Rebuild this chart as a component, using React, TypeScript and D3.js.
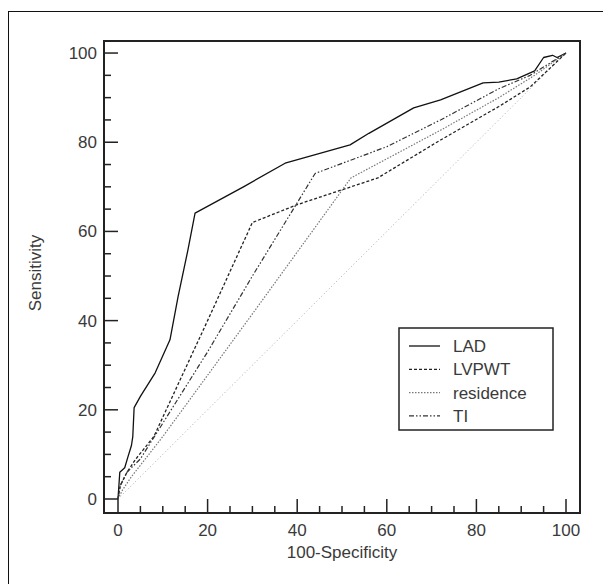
import { useEffect, useRef } from 'react'
import * as d3 from 'd3'

// ROC curves, values (100-Specificity, Sensitivity)
const ladX = [0, 0.4, 1.5, 2.2, 3, 3.3, 3.6, 5, 8.3, 11.6, 13.4, 15.6, 17.2, 28, 37.3, 51.8, 56, 66, 72, 81.5, 85, 89, 93, 95, 97, 98, 100]
const ladY = [0, 6, 7, 9.4, 12, 14, 20.5, 23, 28.3, 35.7, 45.3, 55.8, 64.1, 70, 75.3, 79.4, 82, 87.7, 89.5, 93.3, 93.5, 94.2, 96, 99, 99.5, 99, 100]

const lvpwtX = [0, 0.5, 2, 4, 8, 20, 30, 40, 52, 58, 72, 85, 92, 100]
const lvpwtY = [0, 3, 6, 9, 14, 40, 62, 66, 70, 72, 80.5, 88, 92.4, 100]

const residenceX = [0, 1, 3, 10, 30, 52, 72, 85, 93, 100]
const residenceY = [0, 2, 5, 14, 41.5, 72, 82.7, 90, 95, 100]

const tiX = [0, 0.5, 2, 5, 10, 20, 30, 44, 60, 72, 85, 92, 100]
const tiY = [0, 3, 6, 9, 17, 33, 50, 73, 79, 85, 92, 95, 100]

const refX = [0, 100]
const refY = [0, 100]

const tickLabels = [0, 20, 40, 60, 80, 100]

const App = () => {
  const svgRef = useRef(null)
  const width = 603
  const height = 584
  const plot = { left: 104, right: 580, top: 41, bottom: 513 }

  useEffect(() => {
    const svg = d3.select(svgRef.current)
    svg.selectAll('*').remove()

    const font = 'Liberation Sans, Arial, sans-serif'
    const textColor = '#3a3a3a'
    const fontSize = '17px'

    const xScale = d3.scaleLinear().domain([-3.125, 103.125]).range([plot.left, plot.right])
    const yScale = d3.scaleLinear().domain([-3.14, 102.7]).range([plot.bottom, plot.top])

    // outer border of the figure
    svg.append('rect')
      .attr('x', 8.5)
      .attr('y', 11.5)
      .attr('width', 700)
      .attr('height', 700)
      .attr('fill', 'none')
      .attr('stroke', '#111')
      .attr('stroke-width', 1)

    const series = [
      { label: 'LAD', xs: ladX, ys: ladY, color: '#111', dash: null, w: 1.3 },
      { label: 'LVPWT', xs: lvpwtX, ys: lvpwtY, color: '#222', dash: '3,2', w: 1.3 },
      { label: 'residence', xs: residenceX, ys: residenceY, color: '#777', dash: '1.5,1.5', w: 1.2 },
      { label: 'TI', xs: tiX, ys: tiY, color: '#333', dash: '5,2,1.5,2,1.5,2', w: 1.2 }
    ]

    const line = d3.line()
      .x(d => xScale(d[0]))
      .y(d => yScale(d[1]))

    // reference diagonal
    svg.append('path')
      .datum(refX.map((x, i) => [x, refY[i]]))
      .attr('fill', 'none')
      .attr('stroke', '#aaa')
      .attr('stroke-width', 1)
      .attr('stroke-dasharray', '1,2.5')
      .attr('d', line)

    series.forEach(s => {
      const path = svg.append('path')
        .datum(s.xs.map((x, i) => [x, s.ys[i]]))
        .attr('fill', 'none')
        .attr('stroke', s.color)
        .attr('stroke-width', s.w)
        .attr('stroke-linejoin', 'round')
        .attr('d', line)
      if (s.dash) path.attr('stroke-dasharray', s.dash)
    })

    // frame
    svg.append('rect')
      .attr('x', plot.left)
      .attr('y', plot.top)
      .attr('width', plot.right - plot.left)
      .attr('height', plot.bottom - plot.top)
      .attr('fill', 'none')
      .attr('stroke', '#222')
      .attr('stroke-width', 2)

    // inward ticks, minor every 5, major every 20
    const ticks = d3.range(0, 101, 5)
    ticks.forEach(t => {
      const len = t % 20 === 0 ? 14 : 7
      svg.append('line')
        .attr('x1', xScale(t)).attr('x2', xScale(t))
        .attr('y1', plot.bottom).attr('y2', plot.bottom - len)
        .attr('stroke', '#222').attr('stroke-width', 1.5)
      svg.append('line')
        .attr('x1', plot.left).attr('x2', plot.left + len)
        .attr('y1', yScale(t)).attr('y2', yScale(t))
        .attr('stroke', '#222').attr('stroke-width', 1.5)
    })

    tickLabels.forEach(t => {
      svg.append('text')
        .attr('x', xScale(t))
        .attr('y', plot.bottom + 23)
        .attr('text-anchor', 'middle')
        .style('font-family', font)
        .style('font-size', fontSize)
        .style('fill', textColor)
        .text(t)
      svg.append('text')
        .attr('x', plot.left - 7)
        .attr('y', yScale(t))
        .attr('dy', '0.35em')
        .attr('text-anchor', 'end')
        .style('font-family', font)
        .style('font-size', fontSize)
        .style('fill', textColor)
        .text(t)
    })

    svg.append('text')
      .attr('x', 342)
      .attr('y', 558)
      .attr('text-anchor', 'middle')
      .style('font-family', font)
      .style('font-size', fontSize)
      .style('fill', textColor)
      .text('100-Specificity')

    svg.append('text')
      .attr('transform', 'rotate(-90)')
      .attr('x', -273)
      .attr('y', 41)
      .attr('text-anchor', 'middle')
      .style('font-family', font)
      .style('font-size', fontSize)
      .style('fill', textColor)
      .text('Sensitivity')

    // legend
    const legend = svg.append('g')
      .attr('transform', 'translate(399,328)')

    legend.append('rect')
      .attr('width', 154)
      .attr('height', 102)
      .attr('fill', 'white')
      .attr('stroke', '#222')
      .attr('stroke-width', 1.5)

    series.forEach((s, i) => {
      const y = 18 + i * 23.3
      const l = legend.append('line')
        .attr('x1', 10).attr('x2', 41)
        .attr('y1', y).attr('y2', y)
        .attr('stroke', s.color)
        .attr('stroke-width', s.w)
      if (s.dash) l.attr('stroke-dasharray', s.dash)
      legend.append('text')
        .attr('x', 54)
        .attr('y', y)
        .attr('dy', '0.35em')
        .style('font-family', font)
        .style('font-size', fontSize)
        .style('fill', textColor)
        .text(s.label)
    })
  }, [])

  return (
    <svg ref={svgRef} width={width} height={height} style={{ position: 'absolute', left: 0, top: 0 }}></svg>
  )
}

export default App
